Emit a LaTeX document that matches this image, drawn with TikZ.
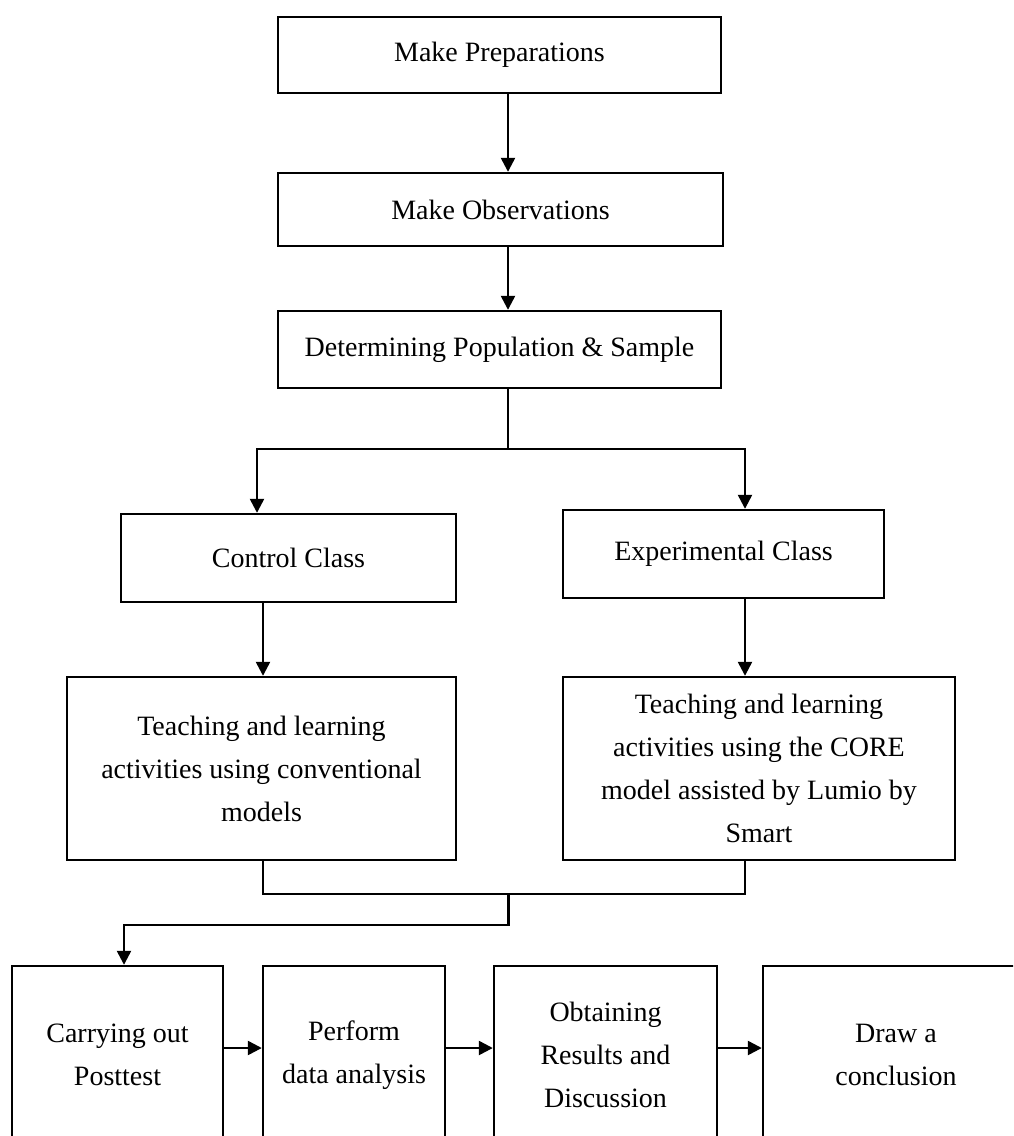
\documentclass[tikz,border=0pt]{standalone}
\usepackage{fontspec}
\setmainfont{Liberation Serif}
\usetikzlibrary{arrows.meta}
\begin{document}
\begin{tikzpicture}[x=0.5pt,y=-0.5pt,
  box/.style={draw=black, line width=1.2pt, align=center, inner sep=0pt,
    font=\fontsize{14}{21.5}\selectfont},
  arr/.style={-{Triangle[length=7pt,width=7pt]}, line width=1.2pt},
  conn/.style={line width=1.2pt}]
\useasboundingbox (0,0) rectangle (1013,1136);
\clip (0,0) rectangle (1013,1136);
\fill[white] (0,0) rectangle (1013,1136);

% top chain
\node[box, minimum width=221.5pt, minimum height=38pt] (b1) at (499.5,55) {Make Preparations};
\node[box, minimum width=222.5pt, minimum height=36.5pt] (b2) at (500.5,209.5) {Make Observations};
\node[box, minimum width=221.5pt, minimum height=38.5pt] (b3) at (499.5,349.5) {Determining Population \& Sample};

% classes
\node[box, minimum width=167.5pt, minimum height=44pt] (ctrl) at (288.5,558) {Control Class};
\node[box, minimum width=160.5pt, minimum height=44pt] (exp) at (723.5,554) {Experimental Class};

% activities
\node[box, minimum width=194.5pt, minimum height=91.5pt] (conv) at (261.5,768.5)
  {Teaching and learning\\activities using conventional\\models};
\node[box, minimum width=196pt, minimum height=91.5pt] (core) at (759,768.5)
  {Teaching and learning\\activities using the CORE\\model assisted by Lumio by\\Smart};

% bottom row
\node[box, minimum width=105.5pt, minimum height=89pt] (p1) at (117.5,1055) {Carrying out\\Posttest};
\node[box, minimum width=91pt, minimum height=89pt] (p2) at (354,1055) {Perform\\data analysis};
\node[box, minimum width=111.5pt, minimum height=89pt] (p3) at (605.5,1055) {Obtaining\\Results and\\Discussion};
\node[box, minimum width=133pt, minimum height=89pt] (p4) at (896,1055) {Draw a\\conclusion};

% helper coordinates
\coordinate (jx) at (508,0);
\coordinate (split) at (508,449);
\coordinate (cin) at (257,449);
\coordinate (ein) at (745,449);
\coordinate (cout) at (263,0);
\coordinate (m1) at (263,894);
\coordinate (m2) at (745,894);
\coordinate (mj) at (508.6,894);
\coordinate (md) at (508.6,925);
\coordinate (pl) at (124,925);
\coordinate (hy) at (0,1048);

% connectors
\draw[arr] (b1.south -| jx) -- (b2.north -| jx);
\draw[arr] (b2.south -| jx) -- (b3.north -| jx);
\draw[conn] (b3.south -| jx) -- (split);
\draw[arr] (split) -- (cin) -- (ctrl.north -| cin);
\draw[arr] (split) -- (ein) -- (exp.north -| ein);
\draw[arr] (ctrl.south -| cout) -- (conv.north -| cout);
\draw[arr] (exp.south -| ein) -- (core.north -| ein);
\draw[conn] (conv.south -| m1) -- (m1) -- (m2) -- (core.south -| m2);
\draw[arr] (mj) -- (md) -- (pl) -- (p1.north -| pl);
\draw[arr] (p1.east |- hy) -- (p2.west |- hy);
\draw[arr] (p2.east |- hy) -- (p3.west |- hy);
\draw[arr] (p3.east |- hy) -- (p4.west |- hy);
\end{tikzpicture}
\end{document}
